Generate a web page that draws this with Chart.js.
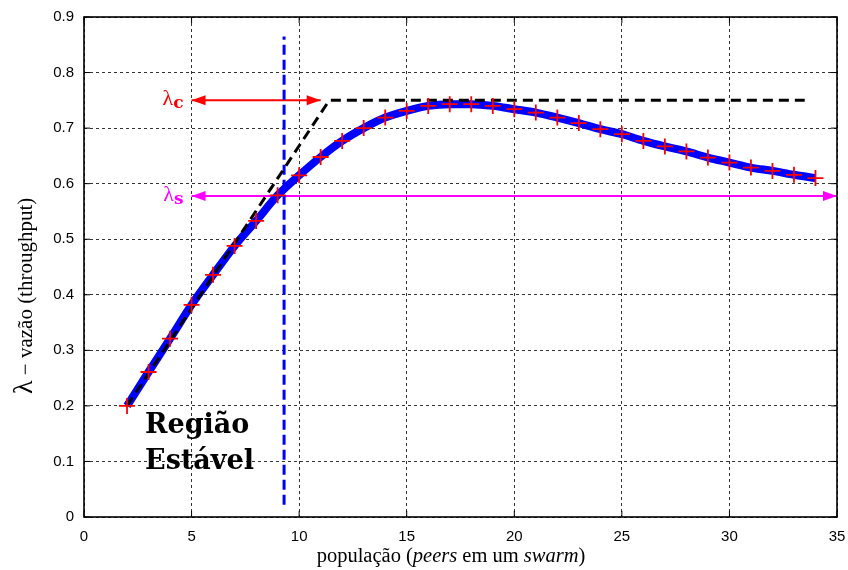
<!DOCTYPE html>
<html><head><meta charset="utf-8">
<script src="https://cdn.jsdelivr.net/npm/chart.js@4/dist/chart.umd.min.js"></script>
<style>html,body{margin:0;padding:0;background:#fff}#wrap{width:848px;height:570px}</style>
</head><body><div id="wrap"><canvas id="c" width="848" height="570"></canvas></div>
<script>
// ---- data ----
const population = [2,3,4,5,6,7,8,9,10,11,12,13,14,15,16,17,18,19,20,21,22,23,24,25,26,27,28,29,30,31,32,33,34];
const throughput = [0.200,0.261,0.321,0.382,0.436,0.488,0.533,0.579,0.615,0.648,0.677,0.700,0.719,0.731,0.740,0.743,0.743,0.740,0.734,0.728,0.719,0.709,0.698,0.689,0.677,0.667,0.658,0.647,0.638,0.629,0.623,0.616,0.610];
const boundX = [2, 11.4, 33.5];
const boundY = [0.2, 0.75, 0.75];
const thresholdX = [9.3, 9.3];
const thresholdY = [0.022, 0.865];
const lambdaCX = [5, 11];
const lambdaCY = [0.75, 0.75];
const lambdaSX = [5, 35];
const lambdaSY = [0.578, 0.578];
const xTicks = [0,5,10,15,20,25,30,35];
const xTickLabels = ['0','5','10','15','20','25','30','35'];
const yTicks = [0,0.1,0.2,0.3,0.4,0.5,0.6,0.7,0.8,0.9];
const yTickLabels = ['0','0.1','0.2','0.3','0.4','0.5','0.6','0.7','0.8','0.9'];
const regionLabel = ['Região', 'Estável'];
const regionAnchor = {x: 2.84, y1: 0.151, y2: 0.086};

const pts = (xs, ys) => xs.map((x, i) => ({x, y: ys[i]}));

const decorPlugin = {
  id: 'decor',
  afterDatasetsDraw(chart) {
    const ctx = chart.ctx;
    chart.data.datasets.forEach((ds, i) => {
      if (!ds.arrowBoth) return;
      const p = chart.getDatasetMeta(i).data;
      const a = p[0], b = p[p.length - 1];
      const head = (tip, from) => {
        const ang = Math.atan2(tip.y - from.y, tip.x - from.x);
        const L = 14, W = 5;
        ctx.save();
        ctx.fillStyle = ds.borderColor;
        ctx.beginPath();
        ctx.moveTo(tip.x, tip.y);
        ctx.lineTo(tip.x - L*Math.cos(ang) + W*Math.sin(ang), tip.y - L*Math.sin(ang) - W*Math.cos(ang));
        ctx.lineTo(tip.x - L*Math.cos(ang) - W*Math.sin(ang), tip.y - L*Math.sin(ang) + W*Math.cos(ang));
        ctx.closePath();
        ctx.fill();
        ctx.restore();
      };
      head(a, b); head(b, a);
    });
  },
  afterDraw(chart) {
    const ctx = chart.ctx;
    const ca = chart.chartArea;
    const xs = chart.scales.x, ys = chart.scales.y;
    ctx.save();
    ctx.strokeStyle = '#000';
    ctx.lineWidth = 1.6;
    ctx.setLineDash([]);
    ctx.strokeRect(ca.left, ca.top, ca.right - ca.left, ca.bottom - ca.top);
    ctx.lineWidth = 1;
    ctx.beginPath();
    xTicks.forEach(v => {
      const p = xs.getPixelForValue(v);
      ctx.moveTo(p, ca.bottom); ctx.lineTo(p, ca.bottom - 6);
      ctx.moveTo(p, ca.top); ctx.lineTo(p, ca.top + 6);
    });
    yTicks.forEach(v => {
      const p = ys.getPixelForValue(v);
      ctx.moveTo(ca.left, p); ctx.lineTo(ca.left + 6, p);
      ctx.moveTo(ca.right, p); ctx.lineTo(ca.right - 6, p);
    });
    ctx.stroke();

    const lamLabel = (sub, color, yv) => {
      const x = xs.getPixelForValue(lambdaCX[0]) - 8;
      const y = ys.getPixelForValue(yv);
      ctx.fillStyle = color;
      ctx.textBaseline = 'alphabetic';
      ctx.font = 'bold 17px "DejaVu Serif"';
      const ws = ctx.measureText(sub).width;
      ctx.textAlign = 'right';
      ctx.fillText(sub, x, y + 8);
      ctx.font = '22px "Liberation Serif"';
      ctx.fillText('λ', x - ws, y + 5);
    };
    lamLabel('c', '#ff0000', lambdaCY[0]);
    lamLabel('s', '#ff00ff', lambdaSY[0]);

    ctx.fillStyle = '#000';
    ctx.textAlign = 'left';
    ctx.font = 'bold 27px "DejaVu Serif"';
    const rx = xs.getPixelForValue(regionAnchor.x);
    ctx.fillText(regionLabel[0], rx, ys.getPixelForValue(regionAnchor.y1));
    ctx.fillText(regionLabel[1], rx, ys.getPixelForValue(regionAnchor.y2));

    const F = '20.5px "Liberation Serif"', FI = 'italic 20.5px "Liberation Serif"';
    const segs = [['população (', F], ['peers', FI], [' em um ', F], ['swarm', FI], [')', F]];
    let total = 0;
    segs.forEach(s => { ctx.font = s[1]; total += ctx.measureText(s[0]).width; });
    let cx = 451 - total / 2;
    segs.forEach(s => { ctx.font = s[1]; ctx.fillText(s[0], cx, 562); cx += ctx.measureText(s[0]).width; });

    ctx.save();
    ctx.translate(32, 394);
    ctx.rotate(-Math.PI / 2);
    ctx.font = '28px "Liberation Serif"';
    ctx.fillText('λ', 0, 0);
    let w = ctx.measureText('λ').width;
    ctx.font = '21px "Liberation Serif"';
    ctx.fillText(' − vazão (throughput)', w, 0);
    ctx.restore();
    ctx.restore();
  }
};

new Chart(document.getElementById('c'), {
  type: 'line',
  data: {
    datasets: [
      { label: 'marks', data: pts(population, throughput), showLine: false,
        pointStyle: 'cross', pointRadius: 8, pointBorderWidth: 1.8,
        borderColor: '#ff0000', backgroundColor: '#ff0000', order: 0 },
      { label: 'bound', data: pts(boundX, boundY), borderColor: '#000', borderWidth: 3,
        borderDash: [10, 6], pointRadius: 0, order: 1, tension: 0 },
      { label: 'throughput', data: pts(population, throughput), borderColor: '#0000ff', borderWidth: 8,
        pointRadius: 0, cubicInterpolationMode: 'monotone', order: 2 },
      { label: 'threshold', data: pts(thresholdX, thresholdY), borderColor: '#0000ff', borderWidth: 3,
        borderDash: [10, 5], pointRadius: 0, order: 3 },
      { label: 'lc', data: pts(lambdaCX, lambdaCY), borderColor: '#ff0000', borderWidth: 2,
        pointRadius: 0, order: 4, arrowBoth: true, clip: false },
      { label: 'ls', data: pts(lambdaSX, lambdaSY), borderColor: '#ff00ff', borderWidth: 2,
        pointRadius: 0, order: 5, arrowBoth: true, clip: false }
    ]
  },
  options: {
    responsive: false,
    animation: false,
    devicePixelRatio: 1,
    layout: { padding: { left: 0, right: 11, top: 17, bottom: 0 } },
    plugins: { legend: { display: false }, tooltip: { enabled: false } },
    scales: {
      x: {
        type: 'linear', min: 0, max: 35,
        afterBuildTicks: s => { s.ticks = xTicks.map(v => ({value: v})); },
        afterFit: s => { s.height = 53; s.paddingLeft = 0; s.paddingRight = 0; },
        grid: { color: '#333', lineWidth: 1, drawTicks: false },
        border: { display: false, dash: [3, 3] },
        ticks: { color: '#000', font: { family: '"Liberation Sans", Arial', size: 15 }, padding: 11,
          maxRotation: 0, autoSkip: false,
          callback: (v, i) => xTickLabels[i] }
      },
      y: {
        type: 'linear', min: 0, max: 0.9,
        afterBuildTicks: s => { s.ticks = yTicks.map(v => ({value: v})); },
        afterFit: s => { s.width = 84; s.paddingTop = 0; s.paddingBottom = 0; },
        grid: { color: '#333', lineWidth: 1, drawTicks: false },
        border: { display: false, dash: [3, 3] },
        ticks: { color: '#000', font: { family: '"Liberation Sans", Arial', size: 15 }, padding: 10,
          autoSkip: false,
          callback: (v, i) => yTickLabels[i] }
      }
    }
  },
  plugins: [decorPlugin]
});
</script>
</body></html>
